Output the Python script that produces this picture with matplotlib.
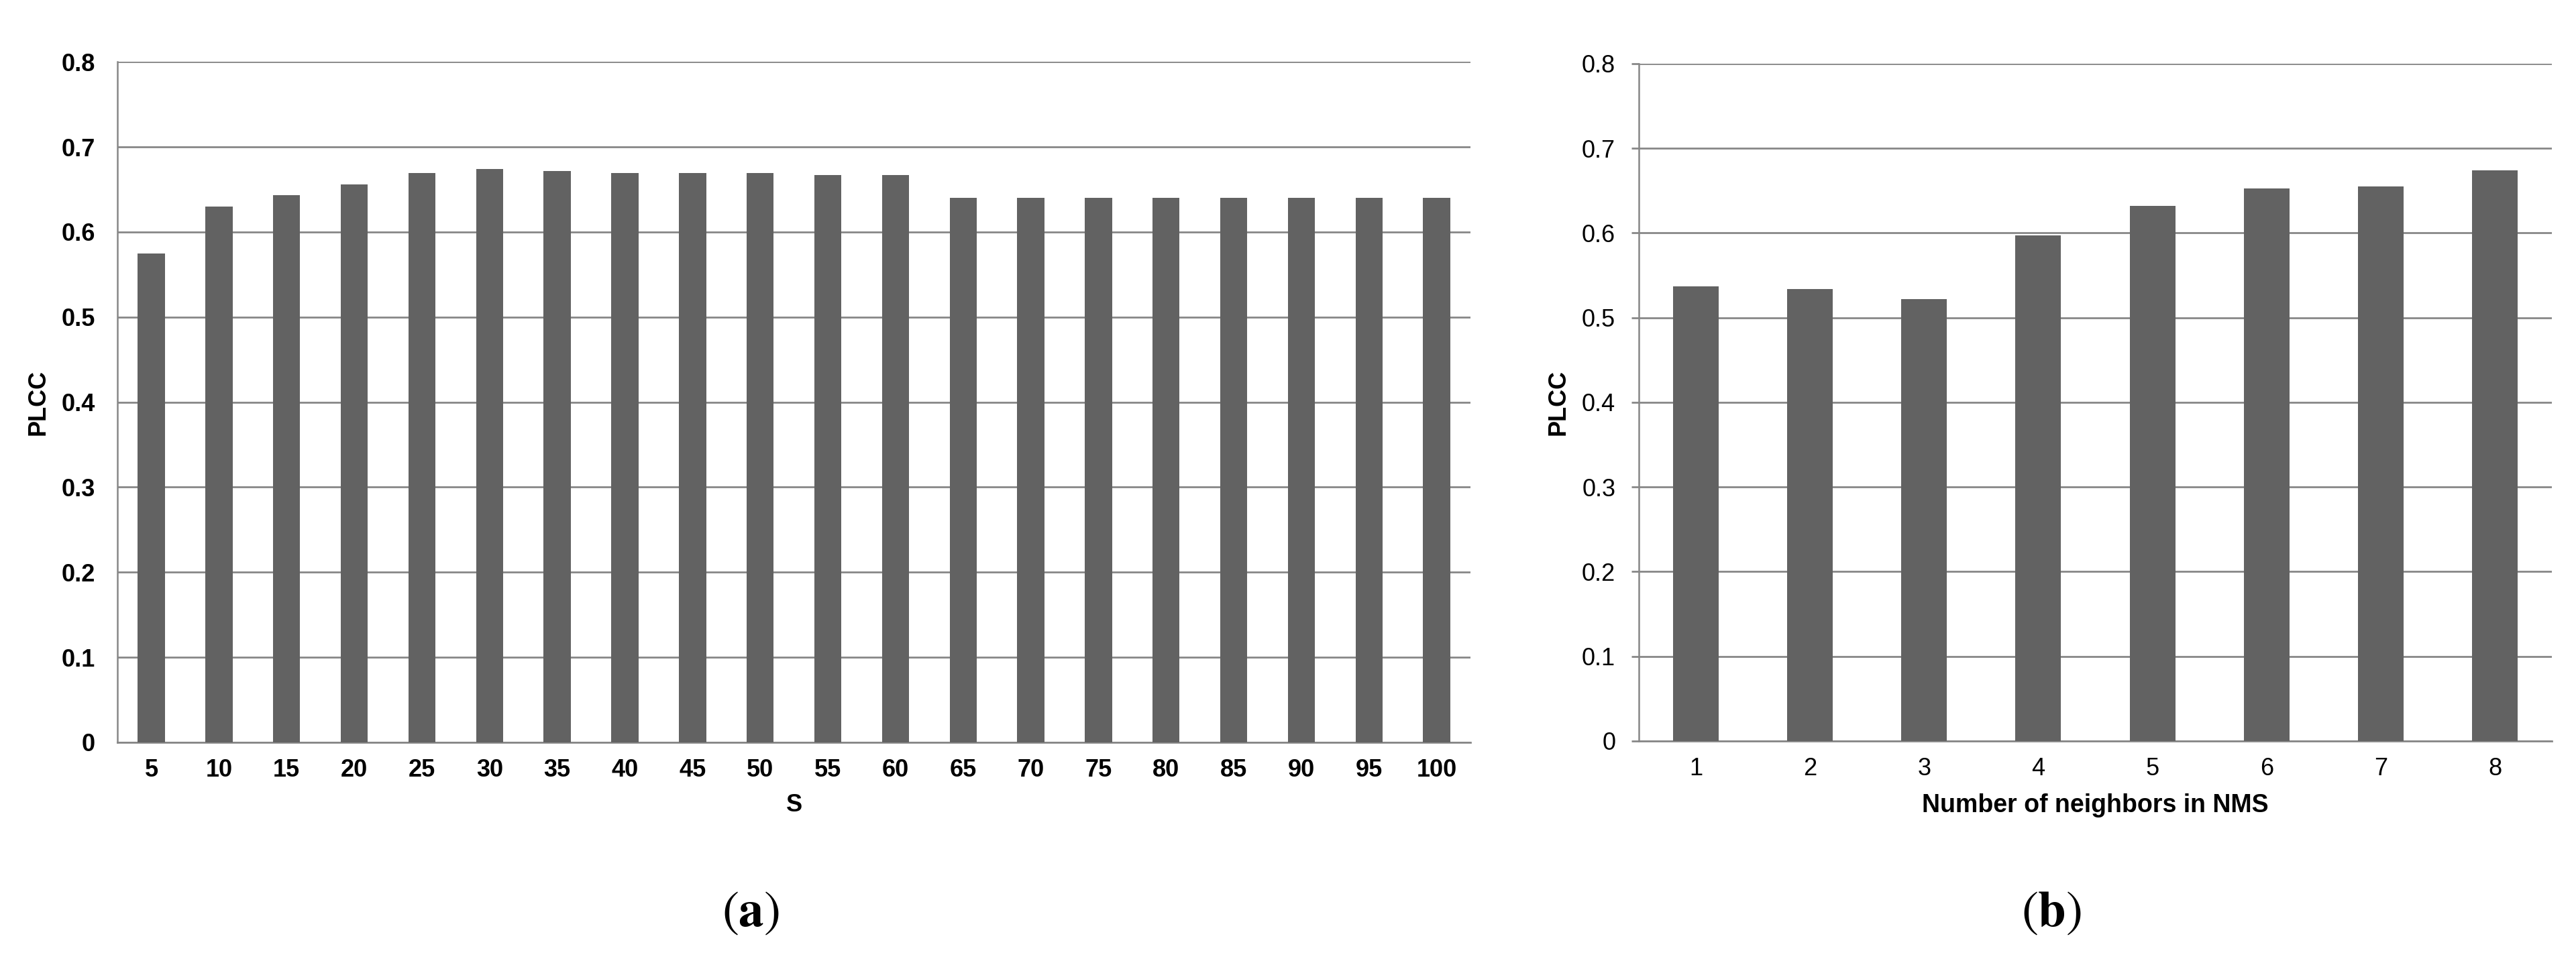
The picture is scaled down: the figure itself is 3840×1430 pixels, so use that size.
import numpy as np
import matplotlib
matplotlib.use("Agg")
from matplotlib import pyplot as plt

# ---------------- data ----------------
s_labels = ['5', '10', '15', '20', '25', '30', '35', '40', '45', '50',
            '55', '60', '65', '70', '75', '80', '85', '90', '95', '100']
s_plcc = [0.575, 0.630, 0.643, 0.656, 0.669, 0.674, 0.672, 0.669, 0.669, 0.669,
          0.667, 0.667, 0.640, 0.640, 0.640, 0.640, 0.640, 0.640, 0.640, 0.640]

nms_labels = ['1', '2', '3', '4', '5', '6', '7', '8']
nms_plcc = [0.537, 0.534, 0.522, 0.597, 0.632, 0.653, 0.655, 0.674]

y_ticks = [0, 0.1, 0.2, 0.3, 0.4, 0.5, 0.6, 0.7, 0.8]
y_ticklabels = ['0', '0.1', '0.2', '0.3', '0.4', '0.5', '0.6', '0.7', '0.8']

# ---------------- style ----------------
plt.rcParams['font.family'] = ['Liberation Sans', 'DejaVu Sans']
plt.rcParams['mathtext.fontset'] = 'stix'
BAR = '#626262'
GRID = '#878787'
FS = 26

fig = plt.figure(figsize=(38.41, 14.30), dpi=100)
ax_a = fig.add_axes([0.0456, 0.2259, 0.5251, 0.7096])
ax_b = fig.add_axes([0.6360, 0.2273, 0.3544, 0.7063])


def style_axis(ax, labels, values, bold, ytick_len):
    x = np.arange(len(labels))
    ax.bar(x, values, width=0.4, color=BAR, zorder=3)
    ax.set_xlim(-0.5, len(labels) - 0.5)
    ax.set_ylim(0, 0.8)
    ax.set_xticks(x)
    ax.set_xticklabels(labels)
    ax.set_yticks(y_ticks)
    ax.set_yticklabels(y_ticklabels)
    w = 'bold' if bold else 'normal'
    for t in ax.get_xticklabels() + ax.get_yticklabels():
        t.set_fontsize(FS)
        t.set_fontweight(w)
    ax.tick_params(axis='x', length=0, pad=17)
    ax.tick_params(axis='y', length=ytick_len, width=2, color=GRID,
                   pad=24 - (ytick_len > 0) * 7)
    ax.grid(axis='y', color=GRID, linewidth=2, zorder=0)
    ax.set_axisbelow(True)
    for sp in ['top', 'right']:
        ax.spines[sp].set_visible(False)
    ax.spines['left'].set_color(GRID)
    ax.spines['left'].set_linewidth(1.8)
    ax.spines['bottom'].set_color(GRID)
    ax.spines['bottom'].set_linewidth(2)
    ax.set_ylabel('PLCC', fontsize=FS, fontweight='bold', va='center')


style_axis(ax_a, s_labels, s_plcc, True, 0)
style_axis(ax_b, nms_labels, nms_plcc, False, 8)

ax_a.set_xlabel('S', fontsize=FS, fontweight='bold')
ax_a.xaxis.set_label_coords(0.5, -0.075)
ax_a.yaxis.set_label_coords(-0.0585, 0.5)

ax_b.set_xlabel('Number of neighbors in NMS', fontsize=27, fontweight='bold')
ax_b.xaxis.set_label_coords(0.5, -0.077)
ax_b.yaxis.set_label_coords(-0.0882, 0.5)

fig.text(0.2913, 0.0476, r'$(\mathbf{a})$', fontsize=54, ha='center', va='center')
fig.text(0.7962, 0.0476, r'$(\mathbf{b})$', fontsize=54, ha='center', va='center')

fig.savefig('out.png', dpi=100)
